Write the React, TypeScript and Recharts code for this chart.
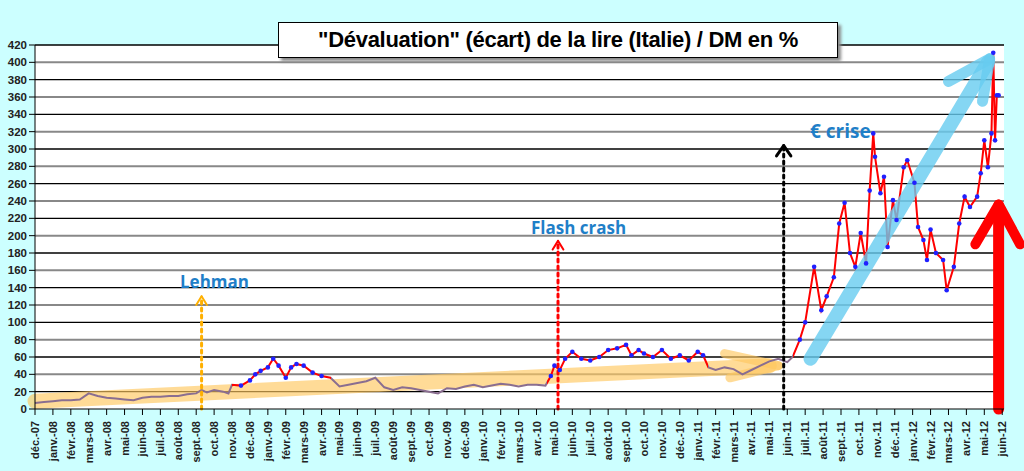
import { LineChart, Line, XAxis, YAxis, ReferenceLine } from "recharts";

const monthNames = ["déc.", "janv.", "févr.", "mars", "avr.", "mai", "juin", "juil.", "août", "sept.", "oct.", "nov."];
const tickLabels = Array.from({ length: 55 }, (_, i) => {
  const yr = 7 + Math.floor((i + 11) / 12);
  return `${monthNames[i % 12]}-${String(yr).padStart(2, "0")}`;
});
const xTicks = tickLabels.map((_, i) => i);
const yTicks = Array.from({ length: 22 }, (_, i) => i * 20);

// month offset from déc.-07
const months = [
  0, 0.5, 1, 1.5, 2, 2.5, 3, 3.5, 4, 4.5, 5, 5.5, 6, 6.5, 7, 7.5, 8, 8.5, 9, 9.3, 9.6, 10, 10.5, 10.8,
  11, 11.5, 12, 12.3, 12.6, 13, 13.3, 13.6, 14, 14.3, 14.6, 15, 15.5, 16, 16.5, 17, 17.5, 18, 18.5, 19, 19.5,
  20, 20.5, 21, 21.5, 22, 22.5, 23, 23.5, 24, 24.5, 25, 25.5, 26, 26.5, 27, 27.5, 28, 28.5, 28.8, 29, 29.3,
  29.6, 30, 30.5, 31, 31.5, 32, 32.5, 33, 33.3, 33.7, 34, 34.5, 35, 35.5, 36, 36.5, 37, 37.3, 37.6, 38, 38.5,
  39, 39.5, 40, 40.5, 41, 41.5, 42, 42.3, 42.7, 43, 43.5, 43.9, 44.2, 44.6, 44.9, 45.2, 45.5, 45.8, 46.1,
  46.4, 46.6, 46.8, 46.9, 47.2, 47.4, 47.6, 47.9, 48.1, 48.5, 48.7, 49.1, 49.3, 49.6, 49.8, 50.0, 50.3, 50.7,
  50.9, 51.3, 51.6, 51.9, 52.2, 52.6, 52.8, 53.0, 53.2, 53.4, 53.5, 53.6, 53.7, 53.8,
];
const ecart = [
  7, 8, 9, 10, 10, 11, 18, 15, 13, 12, 11, 10, 13, 14, 14, 15, 15, 17, 18, 22, 19, 22, 20, 18,
  28, 27, 33, 40, 44, 48, 58, 50, 36, 48, 52, 50, 42, 38, 36, 26, 28, 30, 32, 36, 25,
  22, 25, 24, 22, 20, 18, 24, 23, 26, 28, 25, 27, 29, 28, 26, 28, 28, 27, 38, 50, 45,
  58, 66, 58, 56, 60, 68, 70, 74, 62, 68, 64, 60, 68, 58, 62, 56, 66, 62, 48, 45, 48,
  46, 40, 45, 50, 55, 58, 54, 60, 80, 100, 164, 114, 130, 152, 214, 238, 180, 164, 203,
  168, 252, 318, 291, 249, 268, 187, 241, 218, 279, 287, 261, 210, 195, 172, 207, 180, 172,
  137, 164, 214, 245, 233, 245, 272, 310, 279, 318, 411, 310, 362, 362,
];
const data = months.map((m, i) => ({ m, v: ecart[i] }));
// calm stretches (month ranges) drawn in grey in the original
const calmRanges: [number, number][] = [[0, 11], [16.5, 28.6], [37.6, 42.3]];
const X_MAX = 54.1;
const isCalm = (m: number) => calmRanges.some(([a, b]) => m >= a && m <= b);

const XTick = (p: any) => (
  <text x={p.x + 4} y={p.y + 4} transform={`rotate(-90 ${p.x + 4} ${p.y + 4})`} textAnchor="end"
    fontSize={11} fontWeight="bold" fill="#222" fontFamily="Arial">
    {tickLabels[p.payload.value]}
  </text>
);

const seg = (a: [number, number], b: [number, number], color: string, w: number, dash?: string, op = 1) => (
  <ReferenceLine segment={[{ x: a[0], y: a[1] }, { x: b[0], y: b[1] }]} stroke={color} strokeWidth={w}
    strokeDasharray={dash} strokeOpacity={op} strokeLinecap="round" ifOverflow="visible" />
);

const GREY = "#8A6E90";
const RED = "#FF0000";

export default function App() {
  const stops: any[] = [];
  calmRanges.forEach(([a, b], i) => {
    const pa = (a / X_MAX) * 100, pb = (b / X_MAX) * 100;
    stops.push(<stop key={`a${i}`} offset={`${pa}%`} stopColor={i === 0 ? GREY : RED} />);
    stops.push(<stop key={`b${i}`} offset={`${pa}%`} stopColor={GREY} />);
    stops.push(<stop key={`c${i}`} offset={`${pb}%`} stopColor={GREY} />);
    stops.push(<stop key={`d${i}`} offset={`${pb}%`} stopColor={RED} />);
  });
  return (
    <div style={{ position: "absolute", left: 0, top: 0, width: 1024, height: 471, background: "#CCFFFF", fontFamily: "Arial" }}>
      <LineChart width={1024} height={471} data={data} margin={{ top: 45, right: 20, bottom: 0, left: 0 }}>
        <defs>
          <linearGradient id="lineCol" x1="35" x2="1004" y1="0" y2="0" gradientUnits="userSpaceOnUse">
            {stops}
          </linearGradient>
        </defs>
        <rect x={35} y={45} width={969} height={364} fill="#fff" />
        <XAxis dataKey="m" type="number" domain={[0, X_MAX]} ticks={xTicks} interval={0} height={62}
          tick={<XTick />} stroke="#000" />
        <YAxis type="number" domain={[0, 420]} ticks={yTicks} interval={0} width={35}
          tick={{ fontSize: 11.5, fontWeight: "bold", fill: "#222" }} stroke="#000" />
        {yTicks.slice(1).map((y) => (
          <ReferenceLine key={y} y={y} stroke={y % 40 === 0 ? "#888" : "#000"} strokeWidth={y % 40 === 0 ? 2 : 1.3} />
        ))}
        {seg([0, 9], [41, 50], "#FFC860", 15, undefined, 0.65)}
        {seg([38.5, 64], [41.5, 50], "#FFC860", 9, undefined, 0.65)}
        {seg([41.5, 50], [38.8, 36], "#FFC860", 9, undefined, 0.65)}
        <Line dataKey="v" stroke="url(#lineCol)" strokeWidth={2} isAnimationActive={false}
          dot={(p: any) => !isCalm(p.payload.m)
            ? <circle key={p.index} cx={p.cx} cy={p.cy} r={2.3} fill="#2020FF" />
            : <g key={p.index} />} />
        {seg([43.3, 58], [53.2, 400], "#66CCF0", 14, undefined, 0.8)}
        {seg([51.0, 378], [53.3, 404], "#66CCF0", 11, undefined, 0.8)}
        {seg([53.3, 404], [52.9, 355], "#66CCF0", 11, undefined, 0.8)}
        {seg([53.8, 0], [53.8, 232], "#FF0000", 11)}
        {seg([52.5, 190], [53.8, 236], "#FF0000", 10)}
        {seg([53.8, 236], [55.0, 190], "#FF0000", 10)}
        {seg([9.3, 0], [9.3, 128], "#FFB000", 3, "3 4")}
        {seg([9.0, 120], [9.3, 130], "#FFB000", 2)}
        {seg([9.3, 130], [9.6, 120], "#FFB000", 2)}
        {seg([29.2, 0], [29.2, 192], "#FF0000", 3, "3 4")}
        {seg([28.9, 184], [29.2, 194], "#FF0000", 2)}
        {seg([29.2, 194], [29.5, 184], "#FF0000", 2)}
        {seg([41.8, 0], [41.8, 302], "#000", 3, "3 4")}
        {seg([41.4, 292], [41.8, 304], "#000", 3)}
        {seg([41.8, 304], [42.2, 292], "#000", 3)}
      </LineChart>
      <div style={{ position: "absolute", left: 278, top: 22, width: 558, height: 34, background: "#fff", border: "1px solid #000",
        boxShadow: "3px 3px 3px #888", fontSize: 22, fontWeight: "bold", textAlign: "center", lineHeight: "34px", letterSpacing: -0.3 }}>
        "Dévaluation" (écart) de la lire (Italie) / DM en %
      </div>
      <div style={{ position: "absolute", left: 180, top: 270, color: "#1F7FC8", fontWeight: "bold", fontSize: 17, fontFamily: "Open Sans" }}>Lehman</div>
      <div style={{ position: "absolute", left: 531, top: 216, color: "#1F7FC8", fontWeight: "bold", fontSize: 17, fontFamily: "Open Sans" }}>Flash crash</div>
      <div style={{ position: "absolute", left: 810, top: 118, color: "#1F7FC8", fontWeight: "bold", fontSize: 19, fontFamily: "Open Sans" }}>€ crise</div>
    </div>
  );
}
